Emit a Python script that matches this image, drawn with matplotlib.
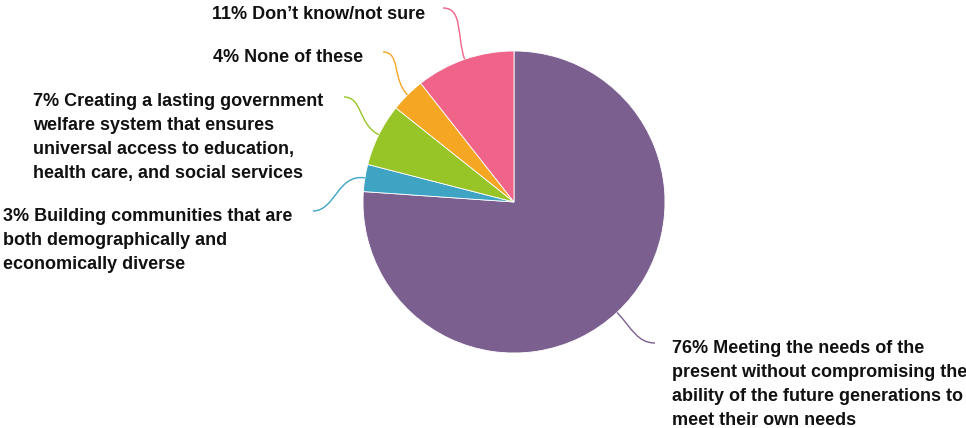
import numpy as np
import matplotlib.pyplot as plt
from matplotlib.path import Path
from matplotlib.patches import PathPatch

# slice data, clockwise from 12 o'clock
labels = [
    "76% Meeting the needs of the\npresent without compromising the\nability of the future generations to\nmeet their own needs",
    "3% Building communities that are\nboth demographically and\neconomically diverse",
    "7% Creating a lasting government\nwelfare system that ensures\nuniversal access to education,\nhealth care, and social services",
    "4% None of these",
    "11% Don\u2019t know/not sure",
]
shares = [76.1, 2.9, 6.7, 3.7, 10.6]
colors = ['#7B5F8F', '#3FA4C4', '#97C427', '#F5A623', '#EF6488']

W, H = 966, 428
cx, cy, R = 514, H - 202, 151

# label anchors (pixel coords, y from top) and where the leader line ends
text_pos = [(672, 340, 'left'), (3, 208, 'left'), (33, 93, 'left'),
            (363, 49, 'right'), (425, 6, 'right')]
line_end = [(655, 343), (313, 211), (344, 97), (383, 52), (443, 8)]

plt.rcParams['font.family'] = ['Liberation Sans', 'DejaVu Sans']

fig = plt.figure(figsize=(W / 100, H / 100), dpi=100)
ax = fig.add_axes([0, 0, 1, 1])

wedges, _ = ax.pie(shares, colors=colors, startangle=90, counterclock=False,
                   center=(cx, cy), radius=R,
                   wedgeprops=dict(edgecolor='white', linewidth=0.6))
ax.set_xlim(0, W)
ax.set_ylim(0, H)
ax.set_aspect('equal')
ax.axis('off')

for w, lab, (tx, ty, ha), (ex, ey), col in zip(wedges, labels, text_pos, line_end, colors):
    mid = np.deg2rad((w.theta1 + w.theta2) / 2)
    sx = cx + R * np.cos(mid)
    sy = cy + R * np.sin(mid)
    ey = H - ey
    d = np.hypot(ex - sx, ey - sy)
    k = 0.45 * d
    p1 = (sx + k * np.cos(mid), sy + k * np.sin(mid))
    side = 1 if ex < sx else -1
    p2 = (ex + side * k * 0.8, ey)
    path = Path([(sx, sy), p1, p2, (ex, ey)],
                [Path.MOVETO, Path.CURVE4, Path.CURVE4, Path.CURVE4])
    ax.add_patch(PathPatch(path, facecolor='none', edgecolor=col, lw=1.0))
    ax.text(tx, H - ty, lab, ha=ha, va='top', fontsize=13, fontweight='bold',
            color='#111111', linespacing=1.54)

fig.savefig('out.png', dpi=100)
